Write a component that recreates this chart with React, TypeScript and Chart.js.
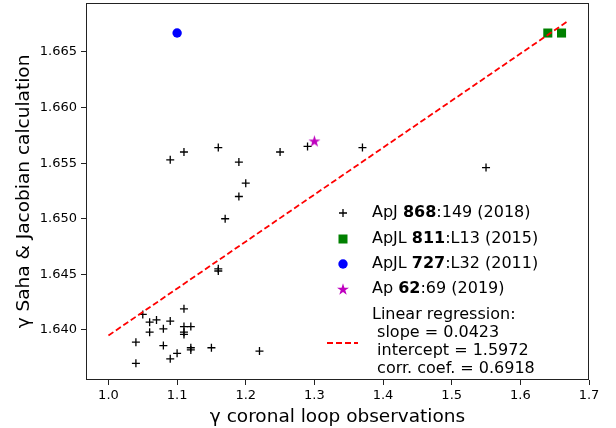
import { useEffect, useRef } from "react";
import { Chart, registerables } from "chart.js";

Chart.register(...registerables);

// ---- data ----
const plusX = [
  1.09, 1.11, 1.16, 1.19, 1.20, 1.19, 1.25, 1.29, 1.37, 1.55,
  1.17, 1.16, 1.16, 1.11, 1.05, 1.07, 1.06, 1.09, 1.08, 1.11,
  1.12, 1.11, 1.11, 1.06, 1.04, 1.08, 1.12, 1.12, 1.15, 1.10,
  1.09, 1.22, 1.04,
];
const plusY = [
  1.6553, 1.656, 1.6564, 1.6551, 1.6532, 1.652, 1.656, 1.6565, 1.6564, 1.6546,
  1.65, 1.6455, 1.6453, 1.6419, 1.6414, 1.6409, 1.6407, 1.6408, 1.6401, 1.6403,
  1.6403, 1.6398, 1.6396, 1.6398, 1.6389, 1.6386, 1.6384, 1.6382, 1.6384, 1.6379,
  1.6374, 1.6381, 1.637,
];
const squareX = [1.64, 1.66];
const squareY = [1.6667, 1.6667];
const circleX = [1.1];
const circleY = [1.6667];
const starX = [1.3];
const starY = [1.657];
const fitX = [1.0, 1.67];
const fitY = [1.6395, 1.6678];

const xTicks = [1.0, 1.1, 1.2, 1.3, 1.4, 1.5, 1.6, 1.7];
const yTicks = [1.64, 1.645, 1.65, 1.655, 1.66, 1.665];

const xTitle = "γ coronal loop observations";
const yTitle = "γ Saha & Jacobian calculation";

const legendPre = ["ApJ ", "ApJL ", "ApJL ", "Ap "];
const legendBold = ["868", "811", "727", "62"];
const legendPost = [":149 (2018)", ":L13 (2015)", ":L32 (2011)", ":69 (2019)"];
const regressionText = [
  "Linear regression:",
  " slope = 0.0423",
  " intercept = 1.5972",
  " corr. coef. = 0.6918",
];

const FONT = '"DejaVu Sans", sans-serif';
const MAGENTA = "#bf00bf";

function drawStarPath(ctx: CanvasRenderingContext2D, cx: number, cy: number, R: number) {
  ctx.beginPath();
  for (let i = 0; i < 10; i++) {
    const a = -Math.PI / 2 + (i * Math.PI) / 5;
    const r = i % 2 === 0 ? R : R * 0.382;
    const px = cx + r * Math.cos(a);
    const py = cy + r * Math.sin(a);
    if (i === 0) ctx.moveTo(px, py);
    else ctx.lineTo(px, py);
  }
  ctx.closePath();
}

function makeStar(R: number, color: string) {
  const c = document.createElement("canvas");
  const s = Math.ceil(2 * R + 2);
  c.width = s;
  c.height = s;
  const g = c.getContext("2d")!;
  g.fillStyle = color;
  drawStarPath(g, s / 2, s / 2 + 0.6, R);
  g.fill();
  return c;
}

const pts = (xs: number[], ys: number[]) => xs.map((x, i) => ({ x, y: ys[i] }));

const framePlugin = {
  id: "frameAndLegend",
  afterDraw(chart: any) {
    const ctx: CanvasRenderingContext2D = chart.ctx;
    const a = chart.chartArea;
    ctx.save();
    ctx.strokeStyle = "#222";
    ctx.lineWidth = 1;
    ctx.strokeRect(Math.round(a.left) + 0.5, Math.round(a.top) + 0.5, Math.round(a.right - a.left) - 1, Math.round(a.bottom - a.top) - 1);

    // legend
    const mx = 343;
    const tx = 372;
    const rowY = [213, 239, 264, 289];
    ctx.textBaseline = "middle";
    ctx.textAlign = "left";
    ctx.fillStyle = "#000";
    for (let i = 0; i < 4; i++) {
      const y = rowY[i];
      if (i === 0) {
        ctx.strokeStyle = "#000";
        ctx.lineWidth = 1.3;
        ctx.beginPath();
        ctx.moveTo(mx - 4, y);
        ctx.lineTo(mx + 4, y);
        ctx.moveTo(mx, y - 4);
        ctx.lineTo(mx, y + 4);
        ctx.stroke();
      } else if (i === 1) {
        ctx.fillStyle = "green";
        ctx.fillRect(mx - 4.5, y - 4.5, 9, 9);
      } else if (i === 2) {
        ctx.fillStyle = "#0000ff";
        ctx.beginPath();
        ctx.arc(mx, y, 4.7, 0, Math.PI * 2);
        ctx.fill();
      } else {
        ctx.fillStyle = MAGENTA;
        drawStarPath(ctx, mx, y + 0.6, 6.3);
        ctx.fill();
      }
      ctx.fillStyle = "#000";
      let x = tx;
      ctx.font = `16px ${FONT}`;
      ctx.fillText(legendPre[i], x, y);
      x += ctx.measureText(legendPre[i]).width;
      ctx.font = `bold 16px ${FONT}`;
      ctx.fillText(legendBold[i], x, y);
      x += ctx.measureText(legendBold[i]).width;
      ctx.font = `16px ${FONT}`;
      ctx.fillText(legendPost[i], x, y);
    }
    ctx.font = `16px ${FONT}`;
    regressionText.forEach((t, j) => {
      ctx.fillText(t, tx, 315 + j * 18);
    });
    ctx.strokeStyle = "#ff0000";
    ctx.lineWidth = 1.8;
    ctx.setLineDash([6, 3]);
    ctx.beginPath();
    ctx.moveTo(327, 343);
    ctx.lineTo(358, 343);
    ctx.stroke();
    ctx.restore();
  },
};

export default function App() {
  const ref = useRef<HTMLCanvasElement | null>(null);

  useEffect(() => {
    if (!ref.current) return;
    const star = makeStar(6.3, MAGENTA);
    const chart = new Chart(ref.current, {
      type: "scatter",
      data: {
        datasets: [
          {
            type: "line",
            data: pts(fitX, fitY),
            borderColor: "#ff0000",
            borderWidth: 1.8,
            borderDash: [6, 3],
            pointRadius: 0,
            fill: false,
            showLine: true,
          } as any,
          {
            data: pts(plusX, plusY),
            pointStyle: "cross",
            pointRadius: 4,
            borderColor: "#000",
            borderWidth: 1.3,
            backgroundColor: "#000",
          },
          {
            data: pts(squareX, squareY),
            pointStyle: "rect",
            pointRadius: 6.4,
            backgroundColor: "green",
            borderWidth: 0,
          },
          {
            data: pts(circleX, circleY),
            pointStyle: "circle",
            pointRadius: 4.7,
            backgroundColor: "#0000ff",
            borderWidth: 0,
          },
          {
            data: pts(starX, starY),
            pointStyle: star as any,
            pointRadius: 6.3,
            backgroundColor: MAGENTA,
            borderWidth: 0,
          },
        ],
      },
      options: {
        responsive: false,
        animation: false,
        events: [],
        layout: { autoPadding: false, padding: { left: 0, right: 27, top: 3, bottom: 0 } },
        plugins: { legend: { display: false }, tooltip: { enabled: false } },
        scales: {
          x: {
            type: "linear",
            min: 0.9673,
            max: 1.7,
            afterBuildTicks: (s: any) => {
              s.ticks = xTicks.map((v) => ({ value: v }));
            },
            afterFit: (s: any) => {
              s.height = 48;
              s.paddingLeft = 0;
              s.paddingRight = 0;
            },
            border: { display: false },
            grid: {
              display: true,
              drawOnChartArea: false,
              drawTicks: true,
              tickLength: 5,
              color: "#222",
            },
            ticks: {
              color: "#000",
              font: { family: FONT, size: 13 },
              padding: 3,
              maxRotation: 0,
              callback: (v: any) => Number(v).toFixed(1),
            },
            title: {
              display: true,
              text: xTitle,
              color: "#000",
              font: { family: FONT, size: 18.5, lineHeight: 1.1 },
              padding: { top: 0, bottom: 1 },
            },
          },
          y: {
            type: "linear",
            min: 1.6355,
            max: 1.6694,
            afterBuildTicks: (s: any) => {
              s.ticks = yTicks.map((v) => ({ value: v }));
            },
            afterFit: (s: any) => {
              s.width = 86;
              s.paddingTop = 0;
              s.paddingBottom = 0;
            },
            border: { display: false },
            grid: {
              display: true,
              drawOnChartArea: false,
              drawTicks: true,
              tickLength: 5,
              color: "#222",
            },
            ticks: {
              color: "#000",
              font: { family: FONT, size: 13 },
              padding: 4,
              callback: (v: any) => Number(v).toFixed(3),
            },
            title: {
              display: true,
              text: yTitle,
              color: "#000",
              font: { family: FONT, size: 18.5, lineHeight: 1.1 },
              padding: { top: 14, bottom: 0 },
            },
          },
        },
      },
      plugins: [framePlugin],
    });
    return () => chart.destroy();
  }, []);

  return (
    <div style={{ position: "fixed", left: 0, top: 0, width: 616, height: 428, background: "#fff" }}>
      <canvas ref={ref} width={616} height={428} style={{ display: "block" }} />
    </div>
  );
}
